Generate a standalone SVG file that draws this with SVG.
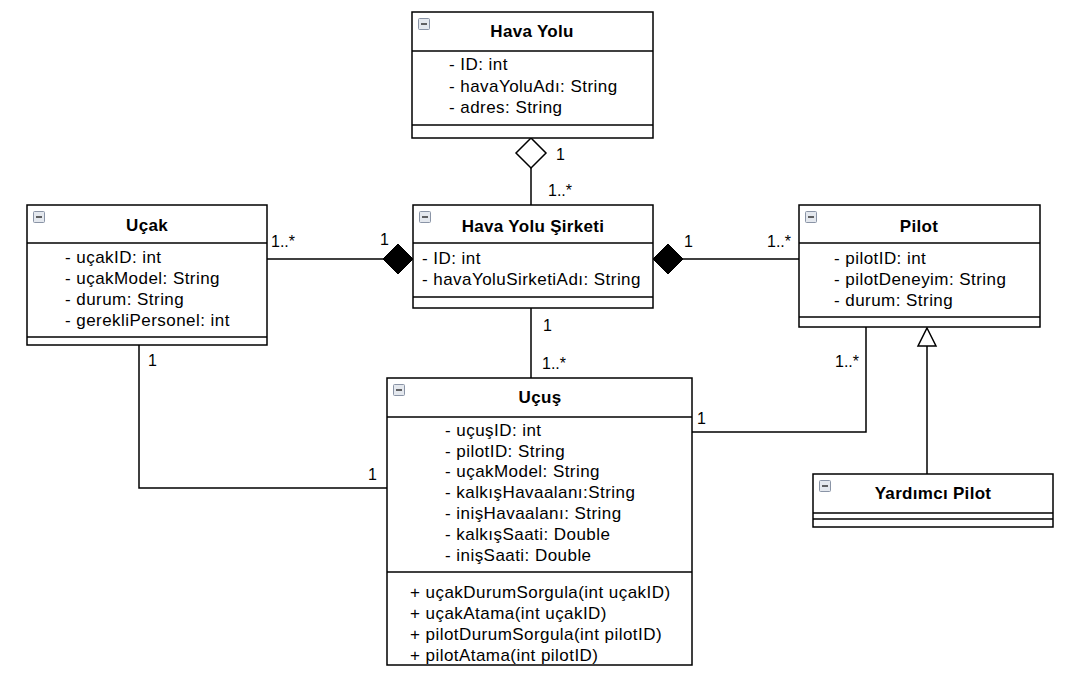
<svg xmlns="http://www.w3.org/2000/svg" width="1078" height="689" viewBox="0 0 1078 689">
<defs>
<style>
.box{fill:#fff;stroke:#000;stroke-width:1.5}
.sep{stroke:#000;stroke-width:1.5}
.title{font-family:"Liberation Sans",Arial,sans-serif;font-size:17px;font-weight:bold;text-anchor:middle;fill:#000;letter-spacing:0.3px}
.attr{font-family:"Liberation Sans",Arial,sans-serif;font-size:17px;fill:#000;letter-spacing:0.45px}
.lbl{font-family:"Liberation Sans",Arial,sans-serif;font-size:16px;fill:#000}
.conn{fill:none;stroke:#000;stroke-width:1.5}
.icon{fill:#e4e8ee;stroke:#8a94a6;stroke-width:1}
.iconl{stroke:#333;stroke-width:1.5}
</style>
<g id="mini">
<rect class="icon" x="0.5" y="0.5" width="11" height="11" rx="1"/>
<line class="iconl" x1="3" y1="6" x2="9" y2="6"/>
</g>
</defs>
<rect width="1078" height="689" fill="#fff"/>

<g id="connectors">
<line class="conn" x1="531" y1="168" x2="531" y2="205"/>
<polygon points="531,138 546,153 531,168 516,153" fill="#fff" stroke="#000" stroke-width="1.5"/>
<text class="lbl" x="556" y="160">1</text>
<text class="lbl" x="548" y="196">1..*</text>
<line class="conn" x1="267" y1="259" x2="384" y2="259"/>
<polygon points="413,259 398,274 383,259 398,244" fill="#000" stroke="#000" stroke-width="1"/>
<text class="lbl" x="271" y="247">1..*</text>
<text class="lbl" x="380" y="245">1</text>
<line class="conn" x1="682" y1="259" x2="799" y2="259"/>
<polygon points="653,259 668,244 683,259 668,274" fill="#000" stroke="#000" stroke-width="1"/>
<text class="lbl" x="684" y="247">1</text>
<text class="lbl" x="767" y="247">1..*</text>
<line class="conn" x1="531" y1="308" x2="531" y2="378"/>
<text class="lbl" x="543" y="331">1</text>
<text class="lbl" x="542" y="369">1..*</text>
<polyline class="conn" points="139,345 139,488 387,488"/>
<text class="lbl" x="148" y="366">1</text>
<text class="lbl" x="368" y="480">1</text>
<polyline class="conn" points="692,432 866,432 866,327"/>
<text class="lbl" x="697" y="424">1</text>
<text class="lbl" x="835" y="367">1..*</text>
<line class="conn" x1="927" y1="474" x2="927" y2="346"/>
<polygon points="927,328 936,346 918,346" fill="#fff" stroke="#000" stroke-width="1.5"/>
</g>

<g id="havaYolu">
<rect class="box" x="412" y="12" width="241" height="126"/>
<line class="sep" x1="412" y1="51" x2="653" y2="51"/>
<line class="sep" x1="412" y1="125" x2="653" y2="125"/>
<use href="#mini" x="418" y="18"/>
<text class="title" x="532" y="37">Hava Yolu</text>
<text class="attr" x="449" y="70">- ID: int</text>
<text class="attr" x="449" y="92">- havaYoluAdı: String</text>
<text class="attr" x="449" y="113">- adres: String</text>
</g>

<g id="ucak">
<rect class="box" x="27" y="205" width="240" height="140"/>
<line class="sep" x1="27" y1="243" x2="267" y2="243"/>
<line class="sep" x1="27" y1="337" x2="267" y2="337"/>
<use href="#mini" x="33" y="211"/>
<text class="title" x="147" y="231">Uçak</text>
<text class="attr" x="65" y="263">- uçakID: int</text>
<text class="attr" x="65" y="284">- uçakModel: String</text>
<text class="attr" x="65" y="305">- durum: String</text>
<text class="attr" x="65" y="326">- gerekliPersonel: int</text>
</g>

<g id="havaYoluSirketi">
<rect class="box" x="413" y="205" width="240" height="103"/>
<line class="sep" x1="413" y1="243" x2="653" y2="243"/>
<line class="sep" x1="413" y1="297" x2="653" y2="297"/>
<use href="#mini" x="419" y="211"/>
<text class="title" x="533" y="232">Hava Yolu Şirketi</text>
<text class="attr" x="422" y="264">- ID: int</text>
<text class="attr" x="422" y="285">- havaYoluSirketiAdı: String</text>
</g>

<g id="pilot">
<rect class="box" x="799" y="205" width="241" height="122"/>
<line class="sep" x1="799" y1="243" x2="1040" y2="243"/>
<line class="sep" x1="799" y1="317" x2="1040" y2="317"/>
<use href="#mini" x="805" y="211"/>
<text class="title" x="919" y="232">Pilot</text>
<text class="attr" x="834" y="264">- pilotID: int</text>
<text class="attr" x="834" y="285">- pilotDeneyim: String</text>
<text class="attr" x="834" y="306">- durum: String</text>
</g>

<g id="ucus">
<rect class="box" x="387" y="378" width="305" height="287"/>
<line class="sep" x1="387" y1="417" x2="692" y2="417"/>
<line class="sep" x1="387" y1="572" x2="692" y2="572"/>
<use href="#mini" x="393" y="384"/>
<text class="title" x="540" y="403">Uçuş</text>
<text class="attr" x="445" y="436">- uçuşID: int</text>
<text class="attr" x="445" y="457">- pilotID: String</text>
<text class="attr" x="445" y="477">- uçakModel: String</text>
<text class="attr" x="445" y="498">- kalkışHavaalanı:String</text>
<text class="attr" x="445" y="519">- inişHavaalanı: String</text>
<text class="attr" x="445" y="540">- kalkışSaati: Double</text>
<text class="attr" x="445" y="561">- inişSaati: Double</text>
<text class="attr" x="410" y="598">+ uçakDurumSorgula(int uçakID)</text>
<text class="attr" x="410" y="619">+ uçakAtama(int uçakID)</text>
<text class="attr" x="410" y="640">+ pilotDurumSorgula(int pilotID)</text>
<text class="attr" x="410" y="661">+ pilotAtama(int pilotID)</text>
</g>

<g id="yardimciPilot">
<rect class="box" x="813" y="474" width="240" height="53"/>
<line class="sep" x1="813" y1="513" x2="1053" y2="513"/>
<line class="sep" x1="813" y1="519" x2="1053" y2="519"/>
<use href="#mini" x="819" y="480"/>
<text class="title" x="933" y="499">Yardımcı Pilot</text>
</g>
</svg>
